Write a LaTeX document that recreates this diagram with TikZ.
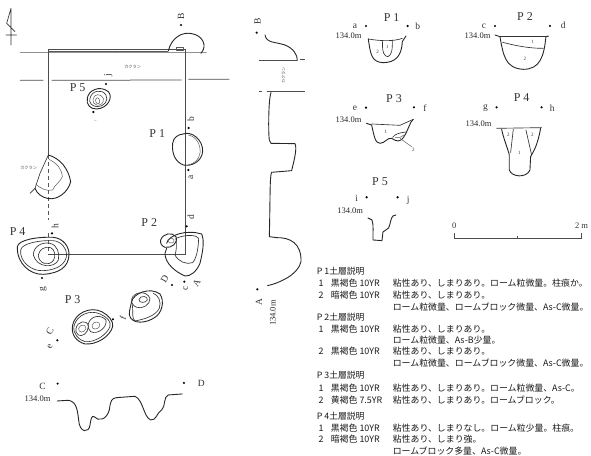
\documentclass[tikz,border=0pt]{standalone}
\usepackage{fontspec}
\setmainfont{Liberation Serif}
\newfontfamily\jpfont{Noto Sans CJK JP}
\tikzset{
 ink/.style={line width=0.65pt,draw=black!80,line join=round,line cap=round},
 heavy/.style={line width=0.9pt,draw=black!85,line join=round,line cap=round},
 thin/.style={line width=0.5pt,draw=black!65,line join=round},
 grid/.style={line width=0.75pt,draw=black!70},
 spot/.style={circle,fill=black,inner sep=0pt,minimum size=2.4pt},
 pit/.style={font=\fontsize{12}{12}\selectfont,text=black!80,inner sep=0pt},
 tag/.style={font=\fontsize{9.5}{10}\selectfont,text=black!80,inner sep=0pt},
 lvl/.style={font=\fontsize{8.5}{9}\selectfont,text=black!85,inner sep=0pt,anchor=east},
 num/.style={font=\fontsize{5}{5}\selectfont,text=black!80,inner sep=0pt},
 kak/.style={font=\jpfont\fontsize{4.2}{5}\selectfont,text=black!70,inner sep=0pt},
 note/.style={font=\jpfont\fontsize{8.9}{9}\selectfont,text=black!90,inner sep=0pt,anchor=west},
 head/.style={font=\jpfont\fontsize{8.8}{9}\selectfont,text=black!90,inner sep=0pt,anchor=west},
 zoomA/.style={x=0.3333pt,y=-0.3333pt},
 zoomB/.style={x=0.3333pt,y=-0.3333pt,shift={(0,660)}},
 zoomC/.style={x=0.3333pt,y=-0.3333pt,shift={(900,0)}},
 zoomD/.style={x=0.3333pt,y=-0.3333pt,shift={(900,780)}},
 zoomE/.style={x=0.3333pt,y=-0.3333pt,shift={(705,0)}},
}
\begin{document}
\begin{tikzpicture}[x=1pt,y=-1pt]
\useasboundingbox (0,0) rectangle (591,455);
% ---------- plan, upper part
\begin{scope}[zoomA]
 \draw[ink] (33,25) -- (33,135) (33,25) -- (20,70) -- (45,95) (18,105) -- (50,105);
 \draw[grid] (145,147) -- (555,147) -- (555,660);
 \draw[thin] (145,155) -- (505,155);
 \draw[grid] (145,147) -- (145,465);
 \draw[thin,dash pattern=on 4pt off 3pt] (145,465) -- (145,660);
 \draw[thin] (60,157) -- (620,158);
 \draw[grid] (60,241) -- (130,241) (155,241) -- (545,240) (565,238) -- (688,238);
 \draw[heavy] (505,153) .. controls (515,110) and (550,95) .. (575,101) .. controls (605,105) and (625,135) .. (603,160);
 \draw[thin] (530,152) rectangle (550,142);
 \node[spot] (dotB) at (543,75) {};
 \node[tag,rotate=90] (labB) at (543,49) {B};
 \node[kak] (kakA) at (398,202) {カクラン};
 \node[pit] (labP5) at (233,263) {P 5};
 \node[tag,rotate=90] (labj) at (325,225) {j};
 \node[spot] (dotj) at (318,252) {};
 \node[spot] (doti) at (280,336) {};
 \node[font=\fontsize{3.5}{4}\selectfont,text=black!60,rotate=90] (labi) at (286,362) {i};
 % P5
 \draw[heavy] (262,295) .. controls (265,270) and (300,255) .. (325,275) .. controls (340,290) and (325,325) .. (290,327) .. controls (270,328) and (258,312) .. (262,295) -- cycle;
 \draw[ink] (270,295) .. controls (275,272) and (305,265) .. (318,285) .. controls (328,302) and (310,322) .. (290,320) .. controls (275,318) and (266,308) .. (270,295) -- cycle;
 \draw[thin] (279,298) .. controls (282,280) and (303,280) .. (310,295) .. controls (313,310) and (300,318) .. (290,315) .. controls (282,312) and (277,307) .. (279,298) -- cycle;
 \draw[thin] (287,298) .. controls (292,288) and (300,295) .. (299,308) .. controls (295,315) and (285,310) .. (287,298) -- cycle;
 % P1
 \node[pit] (labP1) at (472,400) {P 1};
 \node[tag,rotate=90] (labb) at (573,358) {b};
 \node[spot] (dotb) at (566,384) {};
 \node[tag,rotate=90] (laba) at (573,533) {a};
 \node[spot] (dota) at (565,510) {};
 \draw[heavy] (550,402) .. controls (575,392) and (610,420) .. (608,455) .. controls (605,485) and (575,500) .. (550,495) .. controls (525,485) and (515,460) .. (518,430) .. controls (520,412) and (535,403) .. (550,402) -- cycle;
 \draw[thin] (565,405) .. controls (590,410) and (603,435) .. (600,460) .. controls (597,478) and (585,490) .. (565,495);
 \node[tag,rotate=90] (labd) at (573,650) {d};
 \node[pit] (labP2) at (448,669) {P 2};
 % cut-off pit at left
 \node[kak] (kakB) at (86,504) {カクラン};
 \draw[heavy] (145,465) .. controls (180,475) and (205,505) .. (212,545) .. controls (205,575) and (175,600) .. (145,596) .. controls (125,592) and (110,580) .. (105,565);
 \draw[ink] (145,465) -- (120,520) -- (105,565) -- (90,580);
 \draw[thin] (147,478) .. controls (170,490) and (185,505) .. (187,530) .. controls (180,548) and (165,552) .. (158,570) .. controls (140,575) and (120,565) .. (107,552);
\end{scope}
% ---------- plan, lower part
\begin{scope}[zoomB]
 \node[tag,rotate=90] (labh) at (165,18) {h};
 \node[spot] (doth) at (156,40) {};
 \node[pit] (labP4) at (53,34) {P 4};
 \node[spot] (dotg) at (126,174) {};
 \node[tag,rotate=90] (labg) at (130,208) {g};
 \draw[grid] (555,0) -- (555,103) -- (275,103);
 \draw[grid] (275,103) -- (145,103);
 \draw[thin,dash pattern=on 4pt off 3pt] (145,40) -- (145,103);
 % P4
 \draw[heavy] (52,80) .. controls (55,60) and (110,50) .. (160,52) .. controls (190,55) and (208,80) .. (207,105) .. controls (205,140) and (180,160) .. (130,163) .. controls (90,165) and (50,130) .. (52,80) -- cycle;
 \draw[ink] (62,90) .. controls (65,70) and (120,60) .. (160,62) .. controls (185,65) and (200,85) .. (200,105) .. controls (198,130) and (175,150) .. (130,152) .. controls (95,155) and (58,125) .. (62,90) -- cycle;
 \draw[ink] (100,105) .. controls (100,80) and (125,65) .. (150,70) .. controls (172,75) and (180,100) .. (175,120) .. controls (165,145) and (110,145) .. (100,105) -- cycle;
 \draw[ink] (115,105) .. controls (118,88) and (135,78) .. (152,83) .. controls (165,88) and (168,110) .. (160,122) .. controls (145,140) and (115,130) .. (115,105) -- cycle;
 % P2
 \node[spot] (dotd) at (560,19) {};
 \draw[heavy] (500,70) .. controls (505,45) and (560,28) .. (605,42) .. controls (615,65) and (607,100) .. (600,130) .. controls (590,155) and (570,170) .. (555,168) .. controls (525,155) and (495,130) .. (495,100) -- (500,85);
 \draw[heavy] (482,60) .. controls (490,40) and (515,35) .. (528,50) .. controls (535,70) and (515,85) .. (495,82) .. controls (485,78) and (480,70) .. (482,60) -- cycle;
 \draw[thin] (505,60) .. controls (510,50) and (525,55) .. (522,65) .. controls (518,72) and (503,70) .. (505,60) -- cycle;
 \draw[ink] (528,55) .. controls (560,42) and (590,45) .. (596,55) .. controls (595,85) and (590,115) .. (578,128) .. controls (560,135) and (535,125) .. (525,105) .. controls (530,90) and (530,75) .. (528,55) -- cycle;
 \node[tag,rotate=60] (labDsm) at (494,178) {D};
 \node[spot] (dotD) at (516,195) {};
 \node[spot] (dotc) at (553,185) {};
 \node[tag,rotate=90] (labc) at (557,204) {c};
 \node[tag,rotate=60] (labA) at (590,190) {A};
 % P3 east pit
 \draw[heavy] (395,245) .. controls (400,220) and (450,200) .. (480,222) .. controls (495,245) and (485,280) .. (465,292) .. controls (440,310) and (395,315) .. (388,285) .. controls (388,270) and (392,258) .. (395,245) -- cycle;
 \draw[ink] (397,255) .. controls (400,280) and (395,295) .. (405,303) .. controls (430,298) and (465,290) .. (478,265) .. controls (485,245) and (475,225) .. (460,220);
 \draw[ink] (395,238) .. controls (400,215) and (440,210) .. (450,235) .. controls (452,255) and (425,268) .. (410,262) .. controls (400,258) and (393,250) .. (395,238) -- cycle;
 \draw[ink] (417,238) .. controls (422,225) and (445,228) .. (442,240) .. controls (438,250) and (415,250) .. (417,238) -- cycle;
 % P3 west pit
 \node[pit] (labP3) at (218,240) {P 3};
 \node[spot] (dotf) at (339,298) {};
 \node[tag,rotate=70] (labf) at (368,293) {f};
 \node[spot] (dote) at (172,361) {};
 \node[tag,rotate=65] (labe) at (150,380) {e};
 \node[tag,rotate=65] (labC) at (150,335) {C};
 \draw[heavy] (218,315) .. controls (225,280) and (270,258) .. (305,275) .. controls (325,285) and (342,305) .. (338,320) .. controls (330,350) and (290,375) .. (255,372) .. controls (230,365) and (212,345) .. (218,315) -- cycle;
 \draw[ink] (222,318) .. controls (230,285) and (270,268) .. (300,282) .. controls (320,290) and (335,305) .. (330,320) .. controls (320,345) and (285,368) .. (255,365) .. controls (235,360) and (218,340) .. (222,318) -- cycle;
 \draw[ink] (228,325) .. controls (232,305) and (262,295) .. (265,320) .. controls (265,340) and (245,352) .. (235,345) .. controls (228,340) and (226,332) .. (228,325) -- cycle;
 \draw[thin] (236,325) .. controls (240,312) and (258,312) .. (258,325) .. controls (255,340) and (233,340) .. (236,325) -- cycle;
 \draw[ink] (265,312) .. controls (270,290) and (300,280) .. (318,300) .. controls (322,325) and (290,345) .. (272,335) .. controls (265,330) and (263,320) .. (265,312) -- cycle;
 \draw[thin] (276,316) .. controls (280,303) and (300,303) .. (300,316) .. controls (295,332) and (273,330) .. (276,316) -- cycle;
 % section C-D
 \node[tag] (labCC) at (128,498) {C};
 \node[spot] (dotCC) at (173,491) {};
 \node[spot] (dotDD) at (552,489) {};
 \node[tag] (labDD) at (604,489) {D};
 \node[lvl] (lvlCD) at (152,537) {134.0m};
 \draw[heavy] (172,543) -- (205,541) .. controls (228,545) and (232,565) .. (236,600) .. controls (238,640) and (268,640) .. (270,615) .. controls (272,600) and (275,585) .. (282,590) .. controls (295,605) and (320,600) .. (328,570) .. controls (332,540) and (335,535) .. (350,533) -- (405,529) .. controls (430,540) and (430,590) .. (452,600) .. controls (470,602) and (470,578) .. (485,570) .. controls (497,560) and (490,530) .. (505,525) -- (547,522);
\end{scope}
% ---------- long section A-B
\begin{scope}[zoomE]
 \node[tag,rotate=90] (labBB) at (68,65) {B};
 \node[spot] (dotBB) at (65,98) {};
 \draw[heavy] (90,105) .. controls (95,130) and (120,125) .. (150,135) .. controls (175,145) and (188,165) .. (187,181);
 \draw[grid] (72,181) -- (187,181) (195,179) -- (209,179);
 \draw[grid] (72,275) -- (80,275) (95,275) -- (209,275);
 \node[kak,rotate=90] (kakC) at (146,226) {カクラン};
 \draw[heavy] (108,278) .. controls (100,300) and (100,400) .. (103,420) -- (108,430) -- (180,431) .. controls (188,445) and (175,490) .. (170,512) -- (110,517) .. controls (104,525) and (106,600) .. (103,710) -- (125,713) .. controls (165,712) and (200,730) .. (198,785) .. controls (190,825) and (130,850) .. (98,857);
 \node[spot] (dotAA) at (67,868) {};
 \node[tag,rotate=90] (labAA) at (72,905) {A};
 \node[lvl,rotate=90] (lvlAB) at (114,900) {134.0m};
\end{scope}
% ---------- sections P1..P5
\begin{scope}[zoomC]
 \node[pit] (secP1) at (275,52) {P 1};
 \node[tag] (seca) at (165,78) {a};
 \node[spot] (secdota) at (198,78) {};
 \node[spot] (secdotb) at (323,78) {};
 \node[tag] (secb) at (353,78) {b};
 \node[lvl] (lvlP1) at (185,107) {134.0m};
 \draw[heavy] (205,117) .. controls (212,165) and (215,185) .. (248,188) .. controls (285,188) and (305,170) .. (307,125) -- (318,108);
 \draw[ink] (205,117) .. controls (240,123) and (280,125) .. (307,115);
 \draw[ink] (248,122) .. controls (245,160) and (255,170) .. (264,170) .. controls (275,165) and (278,150) .. (277,120);
 \node[num] (n1a) at (233,157) {2};
 \node[num] (n1b) at (262,140) {1};

 \node[pit] (secP2) at (675,50) {P 2};
 \node[tag] (secc) at (552,78) {c};
 \node[spot] (secdotc) at (585,78) {};
 \node[spot] (secdotd) at (750,78) {};
 \node[tag] (secd) at (790,75) {d};
 \node[lvl] (lvlP2) at (572,107) {134.0m};
 \draw[heavy] (585,105) -- (600,110) .. controls (610,165) and (615,205) .. (670,208) .. controls (720,208) and (732,170) .. (738,110) -- (745,108);
 \draw[ink] (600,108) -- (745,108);
 \draw[ink] (608,127) .. controls (640,135) and (680,145) .. (730,145);
 \node[num] (n2a) at (698,127) {1};
 \node[num] (n2b) at (675,178) {2};

 \node[pit] (secP3) at (282,295) {P 3};
 \node[tag] (sece) at (165,325) {e};
 \node[spot] (secdote) at (198,323) {};
 \node[spot] (secdotf) at (342,322) {};
 \node[tag] (secf) at (375,325) {f};
 \node[lvl] (lvlP3) at (185,360) {134.0m};
 \draw[heavy] (200,370) -- (215,375) .. controls (222,405) and (225,430) .. (240,430) .. controls (255,430) and (262,412) .. (275,415) .. controls (290,425) and (300,428) .. (312,410) .. controls (325,390) and (330,365) .. (340,358);
 \draw[ink] (215,372) -- (300,376) -- (340,358);
 \draw[ink] (278,412) .. controls (285,402) and (300,398) .. (318,396);
 \draw[thin] (285,413) .. controls (295,415) and (305,412) .. (312,405);
 \draw[thin] (300,415) -- (335,440);
 \node[num] (n3a) at (258,395) {1};
 \node[num] (n3b) at (340,450) {2};

 \node[pit] (secP4) at (665,293) {P 4};
 \node[tag] (secg) at (557,325) {g};
 \node[spot] (secdotg) at (590,322) {};
 \node[spot] (secdoth) at (725,322) {};
 \node[tag] (sech) at (757,325) {h};
 \node[lvl] (lvlP4) at (575,370) {134.0m};
 \draw[ink] (590,385) -- (725,383);
 \draw[heavy] (605,388) .. controls (612,420) and (625,450) .. (628,465) -- (628,510) .. controls (635,532) and (680,535) .. (690,510) -- (692,470) .. controls (700,455) and (712,440) .. (722,385);
 \draw[ink] (640,388) -- (632,458) (678,390) -- (695,465);
 \node[num] (n4a) at (625,405) {2};
 \node[num] (n4b) at (697,405) {2};
 \node[num] (n4c) at (658,458) {1};

 \node[pit] (secP5) at (240,545) {P 5};
 \node[tag] (seci) at (170,595) {i};
 \node[spot] (secdoti) at (200,592) {};
 \node[spot] (secdotj) at (293,592) {};
 \node[tag] (secj) at (325,600) {j};
 \node[lvl] (lvlP5) at (190,632) {134.0m};
 \draw[heavy] (204,654) -- (216,660) .. controls (222,675) and (218,700) .. (219,720) -- (246,722) -- (249,696) -- (266,684) .. controls (272,670) and (272,655) .. (279,648) -- (288,645);

 \node[font=\fontsize{8.5}{9}\selectfont,text=black!80,inner sep=0pt] (sc0) at (463,677) {0};
 \node[font=\fontsize{8.5}{9}\selectfont,text=black!80,inner sep=0pt] (sc2) at (845,677) {2 m};
 \draw[grid] (463,700) -- (463,718) (653,708) -- (653,718) (845,700) -- (845,718) (463,714) -- (845,714);
\end{scope}
% ---------- notes
\begin{scope}[zoomD]
 \node[head] (h1) at (50,33) {P 1土層説明};
 \node[note] (a1) at (55,70) {1};
 \node[note] (b1) at (92,70) {黒褐色 10YR};
 \node[note] (c1) at (278,70) {粘性あり、しまりあり。ローム粒微量。柱痕か。};
 \node[note] (a2) at (55,105) {2};
 \node[note] (b2) at (92,105) {暗褐色 10YR};
 \node[note] (c2) at (278,105) {粘性あり、しまりあり。};
 \node[note] (c3) at (278,140) {ローム粒微量、ロームブロック微量、As-C微量。};
 \node[head] (h2) at (50,172) {P 2土層説明};
 \node[note] (a4) at (55,207) {1};
 \node[note] (b4) at (92,207) {黒褐色 10YR};
 \node[note] (c4) at (278,207) {粘性あり、しまりあり。};
 \node[note] (c5) at (278,240) {ローム粒微量、As-B少量。};
 \node[note] (a6) at (55,273) {2};
 \node[note] (b6) at (92,273) {黒褐色 10YR};
 \node[note] (c6) at (278,273) {粘性あり、しまりあり。};
 \node[note] (c7) at (278,308) {ローム粒微量、ロームブロック微量、As-C微量。};
 \node[head] (h3) at (50,345) {P 3土層説明};
 \node[note] (a8) at (55,385) {1};
 \node[note] (b8) at (92,385) {黒褐色 10YR};
 \node[note] (c8) at (278,385) {粘性あり、しまりあり。ローム粒微量、As-C。};
 \node[note] (a9) at (55,420) {2};
 \node[note] (b9) at (92,420) {黄褐色 7.5YR};
 \node[note] (c9) at (278,420) {粘性あり、しまりあり。ロームブロック。};
 \node[head] (h4) at (50,468) {P 4土層説明};
 \node[note] (a10) at (55,505) {1};
 \node[note] (b10) at (92,505) {黒褐色 10YR};
 \node[note] (c10) at (278,505) {粘性あり、しまりなし。ローム粒少量。柱痕。};
 \node[note] (a11) at (55,537) {2};
 \node[note] (b11) at (92,537) {暗褐色 10YR};
 \node[note] (c11) at (278,537) {粘性あり、しまり強。};
 \node[note] (c12) at (278,572) {ロームブロック多量、As-C微量。};
\end{scope}
\end{tikzpicture}
\end{document}
